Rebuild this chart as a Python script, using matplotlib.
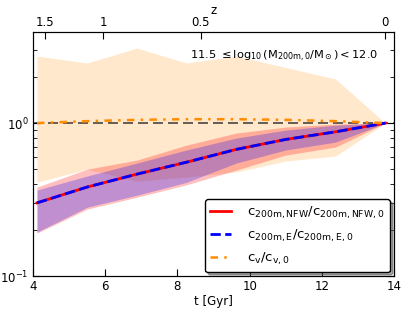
import numpy as np
import matplotlib
matplotlib.use('Agg')
import matplotlib.pyplot as plt

plt.rcParams['mathtext.default'] = 'regular'
plt.rcParams['font.family'] = ['DejaVu Sans']

# snapshot times [Gyr]
t = [4.11, 5.50, 6.88, 8.25, 9.63, 11.0, 12.38, 13.76]

# c_200m,NFW / c_200m,NFW,0 (median and band)
nfw_med = [0.301, 0.382, 0.464, 0.555, 0.673, 0.782, 0.877, 1.0]
nfw_lo = [0.191, 0.274, 0.328, 0.395, 0.493, 0.618, 0.697, 1.0]
nfw_hi = [0.382, 0.500, 0.573, 0.718, 0.861, 0.942, 0.985, 1.0]

# c_200m,E / c_200m,E,0
e_med = [0.301, 0.382, 0.464, 0.555, 0.673, 0.782, 0.877, 1.0]
e_lo = [0.194, 0.282, 0.338, 0.410, 0.548, 0.667, 0.751, 1.0]
e_hi = [0.365, 0.451, 0.548, 0.667, 0.798, 0.900, 0.970, 1.0]

# c_v / c_v,0
v_med = [1.00, 1.03, 1.05, 1.06, 1.06, 1.05, 1.03, 1.0]
v_lo = [0.411, 0.500, 0.418, 0.444, 0.479, 0.565, 0.609, 1.0]
v_hi = [2.74, 2.47, 3.09, 2.47, 2.74, 2.31, 1.94, 1.0]

# top axis: redshift ticks and their times
z_labels = ['1.5', '1', '0.5', '0']
z_times = [4.33, 5.94, 8.65, 13.75]

fs = 8.5

fig = plt.figure(figsize=(4.15, 3.12), dpi=100)
ax = fig.add_axes([0.0795, 0.115, 0.87, 0.782])

ax.fill_between(t, v_lo, v_hi, color='darkorange', alpha=0.2, lw=0)
ax.fill_between(t, nfw_lo, nfw_hi, color='red', alpha=0.25, lw=0)
ax.fill_between(t, e_lo, e_hi, color='blue', alpha=0.25, lw=0)

ax.axhline(1.0, color='k', ls='--', lw=1.2, alpha=0.7, dashes=(6, 3))
ax.plot(t, nfw_med, color='red', lw=2, label=r'$c_{200m,NFW}/c_{200m,NFW,0}$')
ax.plot(t, e_med, color='blue', lw=2, ls='--', label=r'$c_{200m,E}/c_{200m,E,0}$')
ax.plot(t, v_med, color='darkorange', lw=1.8, ls=(0, (3, 2.5, 1, 2.5)),
        label=r'$c_{v}/c_{v,0}$')

ax.set_yscale('log')
ax.set_xlim(4, 14)
ax.set_ylim(0.1, 3.93)
ax.set_xlabel('t [Gyr]', fontsize=fs, labelpad=1)
ax.tick_params(which='both', direction='in', top=False, right=True, labelsize=fs)
ax.tick_params(which='major', length=5, pad=3)
ax.tick_params(which='minor', length=3)

ax2 = ax.twiny()
ax2.set_xlim(ax.get_xlim())
ax2.set_xticks(z_times)
ax2.set_xticklabels(z_labels)
ax2.set_xlabel('z', fontsize=fs, labelpad=2)
ax2.tick_params(direction='in', length=5, labelsize=fs, pad=2)

ax.text(0.955, 0.9, r'$11.5\ \leq \log_{10}(M_{200m,0}/M_\odot) < 12.0$',
        transform=ax.transAxes, ha='right', va='center', fontsize=8.2)

leg = ax.legend(loc='lower right', fontsize=9.5, shadow=True, fancybox=True,
                framealpha=1, edgecolor='k', borderaxespad=0.3, handlelength=1.6,
                handletextpad=1.2, labelspacing=0.5)
leg.get_frame().set_linewidth(1)

fig.savefig('out.png', dpi=100)
